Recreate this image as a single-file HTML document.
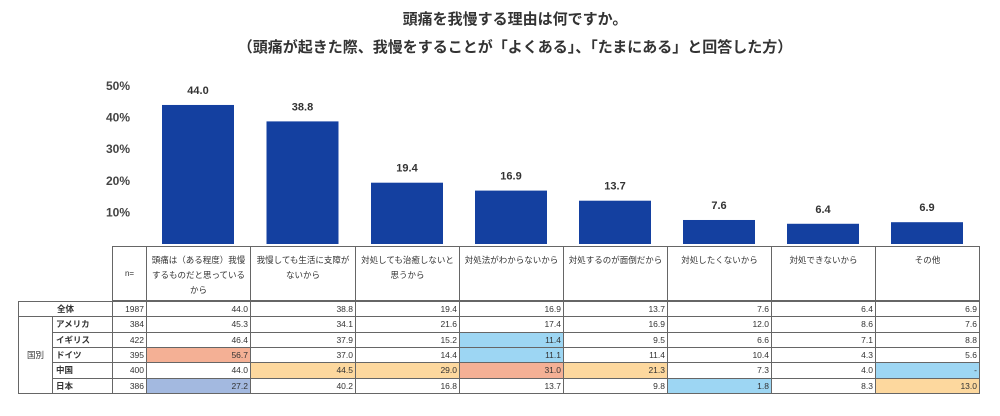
<!DOCTYPE html>
<html><head><meta charset="utf-8">
<style>
body{margin:0;width:1000px;height:416px;background:#fff;position:relative;overflow:hidden;font-family:"Liberation Sans","Noto Sans CJK JP",sans-serif;color:#333}
.t{position:absolute;left:0;width:1030px;text-align:center;font-weight:bold;font-size:15px;color:#333}
.c{position:absolute;box-sizing:border-box;font-size:8.5px;color:#333;overflow:hidden}
</style></head><body>
<div class="t" style="top:8px">頭痛を我慢する理由は何ですか。</div>
<div class="t" style="top:36px">（頭痛が起きた際、我慢をすることが「よくある」、「たまにある」と回答した方）</div>
<svg id="chart" width="1000" height="416" style="position:absolute;left:0;top:0"></svg>
<div id="table"></div>
<script>
const categories=["頭痛は（ある程度）我慢するものだと思っているから","我慢しても生活に支障がないから","対処しても治癒しないと思うから","対処法がわからないから","対処するのが面倒だから","対処したくないから","対処できないから","その他"];
const totalValues=[44.0,38.8,19.4,16.9,13.7,7.6,6.4,6.9];
const yTicks=[10,20,30,40,50];
const rowLabels=["アメリカ","イギリス","ドイツ","中国","日本"];
const rowN=[384,422,395,400,386];
const totalN=1987;
const rowValues=[
[45.3,34.1,21.6,17.4,16.9,12.0,8.6,7.6],
[46.4,37.9,15.2,11.4,9.5,6.6,7.1,8.8],
[56.7,37.0,14.4,11.1,11.4,10.4,4.3,5.6],
[44.0,44.5,29.0,31.0,21.3,7.3,4.0,null],
[27.2,40.2,16.8,13.7,9.8,1.8,8.3,13.0]];
const highlights=[
[0,0,0,0,0,0,0,0],
[0,0,0,"b",0,0,0,0],
["o",0,0,"b",0,0,0,0],
[0,"p","p","o","p",0,0,"b"],
["s",0,0,0,0,"b",0,"p"]];
const hc={o:"#f4b095",p:"#fdd89e",b:"#9dd6f3",s:"#a3b9e0"};
const NS="http://www.w3.org/2000/svg";
const svg=document.getElementById('chart');
const colX=[146,250,355,459,563,667,771,875,979];
const base=244,ppu=3.16;
const y=v=>base-v*ppu;
yTicks.forEach(t=>{const e=document.createElementNS(NS,'text');

e.setAttribute('x',118);e.setAttribute('y',y(t)+4);e.setAttribute('font-size','12');e.setAttribute('font-weight','bold');e.setAttribute('fill','#444');e.setAttribute('text-anchor','middle');e.textContent=t+'%';svg.appendChild(e);});
totalValues.forEach((v,i)=>{const cx=(colX[i]+colX[i+1])/2;
const r=document.createElementNS(NS,'rect');

r.setAttribute('x',cx-36);r.setAttribute('width',72);r.setAttribute('y',y(v));r.setAttribute('height',base-y(v));r.setAttribute('fill','#1440a0');svg.appendChild(r);
const l=document.createElementNS(NS,'text');

l.setAttribute('x',cx);l.setAttribute('y',y(v)-11);l.setAttribute('font-size','11');l.setAttribute('font-weight','bold');l.setAttribute('fill','#333');l.setAttribute('text-anchor','middle');l.textContent=v.toFixed(1);svg.appendChild(l);});
const tb=document.getElementById('table');
function cell(x,yy,w,h,txt,st,name){const d=document.createElement('div');d.className='c';

d.style.cssText=`left:${x}px;top:${yy}px;width:${w}px;height:${h}px;${st||''}`;d.textContent=txt;tb.appendChild(d);return d;}
const bd='border:1px solid #666;';
cell(112,246,35,55,'n=',bd+'padding-top:22px;text-align:center;font-size:8px','n-header');
categories.forEach((c,i)=>cell(colX[i],246,colX[i+1]-colX[i]+1,55,c,bd+'padding:6px 3px 0;text-align:center;line-height:15px','column-header'));
const rowY=[301,316,332,347,362,378,393];
cell(18,rowY[0],95,rowY[1]-rowY[0]+1,'全体',bd+'text-align:center;line-height:14px;font-weight:bold','total-row-label');
cell(112,rowY[0],35,rowY[1]-rowY[0]+1,totalN,bd+'text-align:right;padding-right:2px;line-height:14px','total-n');
totalValues.forEach((v,i)=>cell(colX[i],rowY[0],colX[i+1]-colX[i]+1,rowY[1]-rowY[0]+1,v.toFixed(1),bd+'text-align:right;padding-right:2px;line-height:14px','total-value'));
cell(18,rowY[1],35,rowY[6]-rowY[1]+1,'国別',bd+'text-align:center;padding-top:32px','country-group-label');
rowLabels.forEach((lab,r)=>{const t=rowY[r+1],h=rowY[r+2]-t+1;
cell(52,t,61,h,lab,bd+'padding-left:3px;line-height:14px;font-weight:bold','country-label');
cell(112,t,35,h,rowN[r],bd+'text-align:right;padding-right:2px;line-height:14px','country-n');
rowValues[r].forEach((v,i)=>{const hl=highlights[r][i];
cell(colX[i],t,colX[i+1]-colX[i]+1,h,v==null?'-':v.toFixed(1),bd+'text-align:right;padding-right:2px;line-height:14px;'+(hl?'background:'+hc[hl]+';':''),'country-value');});});
</script>
</body></html>
